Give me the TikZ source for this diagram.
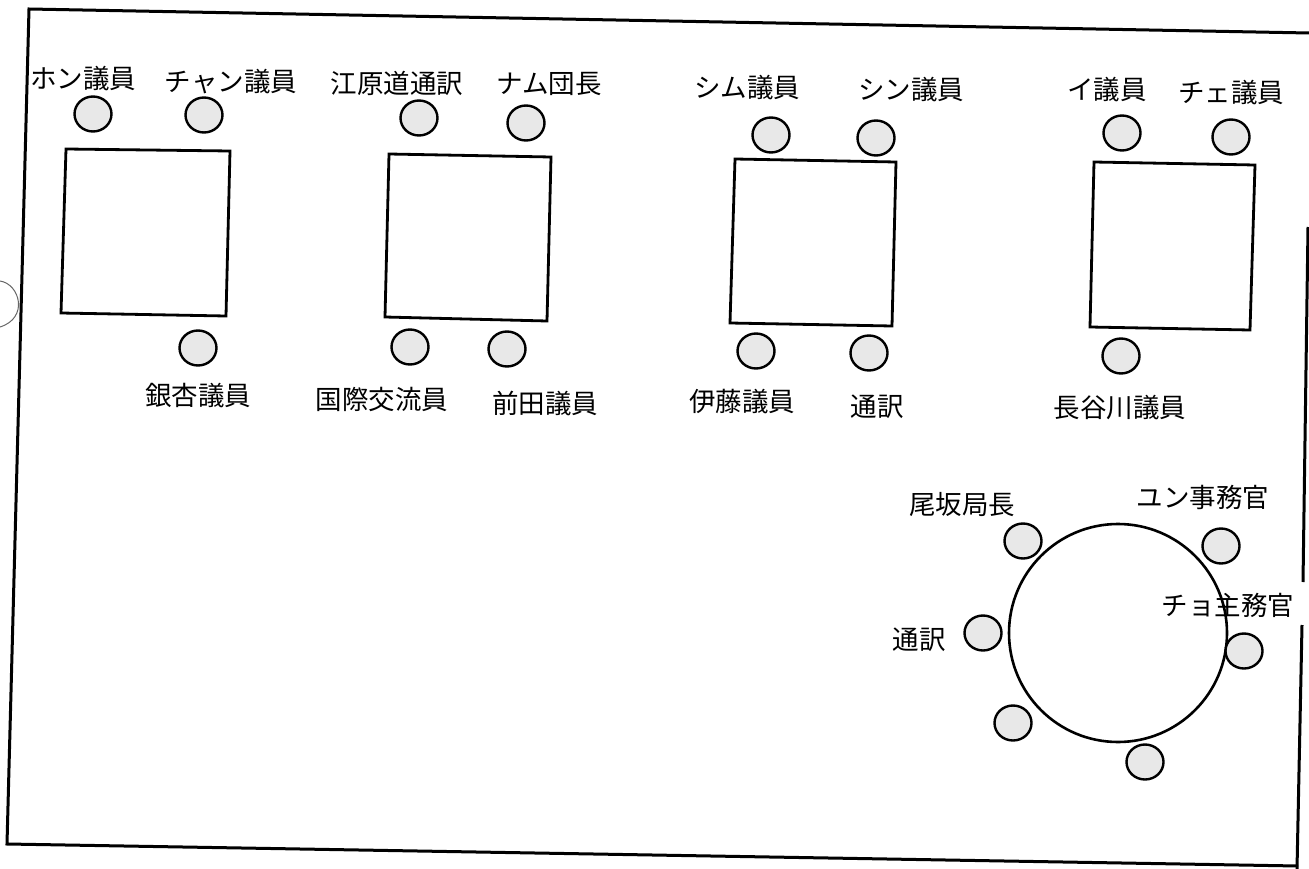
\documentclass[tikz,border=0pt]{standalone}
\usepackage{fontspec}
\setmainfont{Noto Sans CJK JP}
\usetikzlibrary{shapes.geometric}
\begin{document}
\begin{tikzpicture}[x=1pt,y=-1pt,
  frame/.style={line width=3pt,line join=miter},
  tbl/.style={line width=2.8pt,line join=miter},
  seat/.style={ellipse,draw,line width=2.4pt,fill=black!9,minimum width=37pt,minimum height=35pt,inner sep=0pt},
  lbl/.style={inner sep=0pt,font=\fontsize{26.5}{29}\selectfont}]
\useasboundingbox (0,0) rectangle (1309,869);
% outer frame (scanned, slightly skewed)
\draw[frame] (1309,33) -- (29,9) -- (7,844) -- (1298,866);
\draw[frame] (1308,227) -- (1303,582);
\draw[frame] (1302,625) -- (1297,869);
\draw[line width=1pt,black!60] (0,281) .. controls (20,284) and (29,318) .. (0,327);
% rectangular tables
\draw[tbl] (66,149) -- (230,151) -- (226,316) -- (61,313) -- cycle;
\draw[tbl] (389,154) -- (551,157) -- (547,321) -- (385,317) -- cycle;
\draw[tbl] (735,159) -- (896,162) -- (892,326) -- (730,323) -- cycle;
\draw[tbl] (1094,162) -- (1255,165) -- (1250,330) -- (1090,327) -- cycle;
% round table
\node[circle,draw,line width=2.6pt,minimum size=218pt,inner sep=0pt] (rt) at (1118,633) {};
% seats
\node[seat] (s1) at (93,114) {};
\node[seat] (s2) at (204,115) {};
\node[seat] (s3) at (198,348) {};
\node[seat] (s4) at (419,118) {};
\node[seat] (s5) at (526,123) {};
\node[seat] (s6) at (410,347) {};
\node[seat] (s7) at (507,349) {};
\node[seat] (s8) at (771,135) {};
\node[seat] (s9) at (876,138) {};
\node[seat] (s10) at (756,351) {};
\node[seat] (s11) at (869,353) {};
\node[seat] (s12) at (1122,133) {};
\node[seat] (s13) at (1231,137) {};
\node[seat] (s14) at (1121,356) {};
\node[seat] (s15) at (1023,541) {};
\node[seat] (s16) at (1221,546) {};
\node[seat] (s17) at (983,633) {};
\node[seat] (s18) at (1244,651) {};
\node[seat] (s19) at (1013,723) {};
\node[seat] (s20) at (1145,762) {};
% labels
\node[lbl] (l1) at (83,79) {ホン議員};
\node[lbl] (l2) at (231,82) {チャン議員};
\node[lbl] (l3) at (397,83) {江原道通訳};
\node[lbl] (l4) at (549,84) {ナム団長};
\node[lbl] (l5) at (747,88) {シム議員};
\node[lbl] (l6) at (911,90) {シン議員};
\node[lbl] (l7) at (1107,90) {イ議員};
\node[lbl] (l8) at (1231,93) {チェ議員};
\node[lbl] (l9) at (198,396) {銀杏議員};
\node[lbl] (l10) at (382,399) {国際交流員};
\node[lbl] (l11) at (545,403) {前田議員};
\node[lbl] (l12) at (742,402) {伊藤議員};
\node[lbl] (l13) at (877,407) {通訳};
\node[lbl] (l14) at (1120,408) {長谷川議員};
\node[lbl] (l15) at (962,505) {尾坂局長};
\node[lbl] (l16) at (1203,497) {ユン事務官};
\node[lbl] (l17) at (919,640) {通訳};
\node[lbl] (l18) at (1228,605) {チョ主務官};
\end{tikzpicture}
\end{document}
